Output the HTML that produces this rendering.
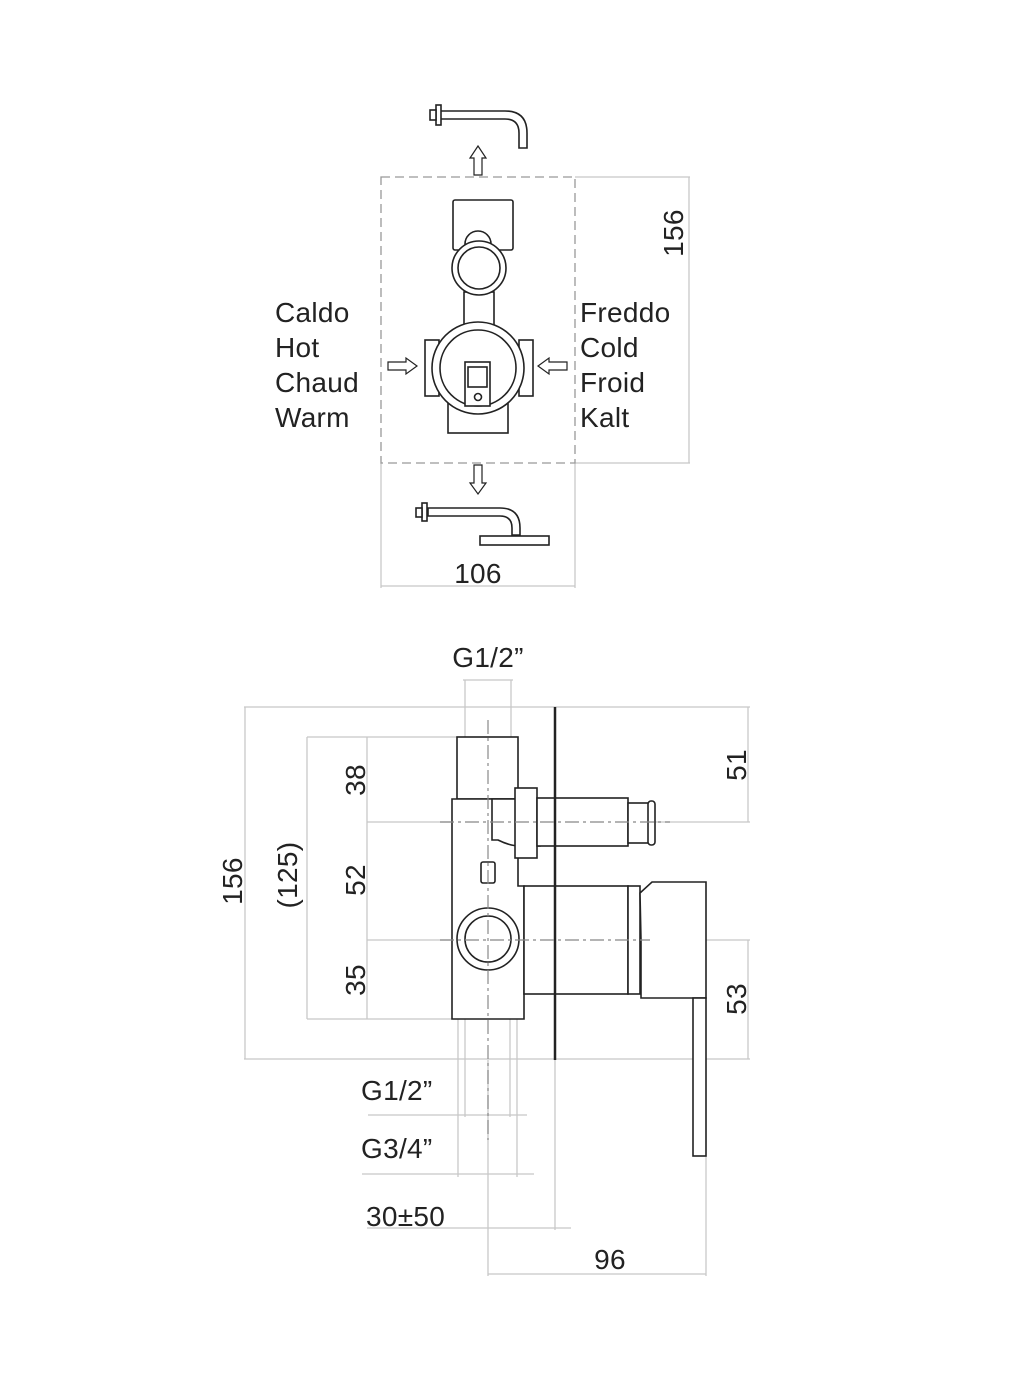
<!DOCTYPE html>
<html><head><meta charset="utf-8"><style>
html,body{margin:0;padding:0;background:#fff;}
svg{display:block;}
text{font-family:"Liberation Sans",Arial,sans-serif;fill:#222;}
</style></head><body>
<svg width="1009" height="1393" viewBox="0 0 1009 1393" xmlns="http://www.w3.org/2000/svg">
<g stroke="#c8c8c8" stroke-width="1.3" fill="none">
  <line x1="575" y1="177" x2="690" y2="177"/>
  <line x1="575" y1="463" x2="690" y2="463"/>
  <line x1="689" y1="177" x2="689" y2="463"/>
  <line x1="381" y1="463" x2="381" y2="588"/>
  <line x1="575" y1="463" x2="575" y2="588"/>
  <line x1="381" y1="586" x2="575" y2="586"/>
  <line x1="244" y1="707" x2="750" y2="707"/>
  <line x1="244" y1="1059" x2="750" y2="1059"/>
  <line x1="245" y1="707" x2="245" y2="1059"/>
  <line x1="307" y1="737" x2="460" y2="737"/>
  <line x1="307" y1="1019" x2="460" y2="1019"/>
  <line x1="307" y1="737" x2="307" y2="1019"/>
  <line x1="367" y1="737" x2="367" y2="1019"/>
  <line x1="367" y1="822" x2="750" y2="822"/>
  <line x1="367" y1="940" x2="750" y2="940"/>
  <line x1="748" y1="707" x2="748" y2="822"/>
  <line x1="748" y1="940" x2="748" y2="1059"/>
  <line x1="465" y1="680" x2="465" y2="737"/>
  <line x1="511" y1="680" x2="511" y2="737"/>
  <line x1="463" y1="680" x2="513" y2="680"/>
  <line x1="465" y1="1019" x2="465" y2="1117"/>
  <line x1="510" y1="1019" x2="510" y2="1117"/>
  <line x1="368" y1="1115" x2="527" y2="1115"/>
  <line x1="458" y1="1019" x2="458" y2="1177"/>
  <line x1="517" y1="1019" x2="517" y2="1177"/>
  <line x1="362" y1="1174" x2="534" y2="1174"/>
  <line x1="555" y1="1060" x2="555" y2="1230"/>
  <line x1="367" y1="1228" x2="571" y2="1228"/>
  <line x1="488" y1="1060" x2="488" y2="1276"/>
  <line x1="706" y1="1156" x2="706" y2="1276"/>
  <line x1="488" y1="1274" x2="706" y2="1274"/>
</g>
<rect x="381" y="177" width="194" height="286" fill="none" stroke="#999" stroke-width="1.3" stroke-dasharray="9,5"/>
<g stroke="#222" stroke-width="1.6" fill="#fff">
  <rect x="453" y="200" width="60" height="50" rx="2"/>
  <circle cx="478" cy="244" r="13"/>
  <rect x="464" y="292" width="30" height="35"/>
  <circle cx="479" cy="268" r="27"/>
  <circle cx="479" cy="268" r="21"/>
  <rect x="448" y="400" width="60" height="33"/>
  <rect x="425" y="340" width="14" height="56"/>
  <rect x="519" y="340" width="14" height="56"/>
  <circle cx="478" cy="368" r="46"/>
  <circle cx="478" cy="368" r="38"/>
  <rect x="465" y="362" width="25" height="44"/>
  <rect x="468" y="367" width="19" height="20"/>
  <circle cx="478" cy="397" r="3.5"/>
  <path d="M438,111 H505 Q527,111 527,133 V148 H519 V133 Q519,119 505,119 H438 Z"/>
  <rect x="436" y="105" width="5" height="20"/>
  <rect x="430" y="110" width="6" height="10"/>
  <path d="M428,508 H500 Q520,508 520,528 V535 H512 V528 Q512,516 500,516 H428 Z"/>
  <rect x="422" y="503" width="5" height="18"/>
  <rect x="416" y="508" width="6" height="9"/>
  <rect x="480" y="536" width="69" height="9"/>
  <path d="M474,175 V158 H470 L478,146 L486,158 H482 V175 Z" stroke-width="1.2"/>
  <path d="M474,465 V483 H470 L478,494 L486,483 H482 V465 Z" stroke-width="1.2"/>
  <path d="M388,362 H406 V358 L417,366 L406,374 V370 H388 Z" stroke-width="1.2"/>
  <path d="M567,362 H549 V358 L538,366 L549,374 V370 H567 Z" stroke-width="1.2"/>
</g>
<g stroke="#222" stroke-width="1.6" fill="#fff">
  <rect x="457" y="737" width="61" height="62"/>
  <path d="M452,799 H498 V799 H518 V815 H520 V855 H518 V886 H524 V1019 H452 Z"/>
  <path d="M492,799 H540 V846 H520 Q510,846 498,840 H492 Z"/>
  <rect x="515" y="788" width="22" height="70"/>
  <rect x="537" y="798" width="91" height="48"/>
  <rect x="628" y="803" width="22" height="40"/>
  <rect x="648" y="801" width="7" height="44" rx="3"/>
  <rect x="524" y="886" width="104" height="108"/>
  <rect x="628" y="886" width="12" height="108"/>
  <path d="M640,893 L652,882 H706 V998 H641 V940 Z"/>
  <rect x="693" y="998" width="13" height="158"/>
  <rect x="481" y="862" width="14" height="21" rx="2"/>
  <circle cx="488" cy="939" r="31"/>
  <circle cx="488" cy="939" r="23"/>
  <line x1="555" y1="707" x2="555" y2="1060" stroke-width="2.5"/>
</g>
<g stroke="#888" stroke-width="1.2" stroke-dasharray="14,4,3,4" fill="none">
  <line x1="488" y1="720" x2="488" y2="1140"/>
  <line x1="440" y1="822" x2="670" y2="822"/>
  <line x1="440" y1="940" x2="650" y2="940"/>
</g>
<g font-size="28" letter-spacing="0.3">
  <text x="275" y="322">Caldo</text>
  <text x="275" y="357">Hot</text>
  <text x="275" y="392">Chaud</text>
  <text x="275" y="427">Warm</text>
  <text x="580" y="322">Freddo</text>
  <text x="580" y="357">Cold</text>
  <text x="580" y="392">Froid</text>
  <text x="580" y="427">Kalt</text>
  <text x="478" y="583" text-anchor="middle">106</text>
  <text transform="translate(683,233) rotate(-90)" text-anchor="middle">156</text>
  <text x="488" y="667" text-anchor="middle">G1/2”</text>
  <text transform="translate(242,881) rotate(-90)" text-anchor="middle">156</text>
  <text transform="translate(297,875) rotate(-90)" text-anchor="middle">(125)</text>
  <text transform="translate(365,780) rotate(-90)" text-anchor="middle">38</text>
  <text transform="translate(365,880) rotate(-90)" text-anchor="middle">52</text>
  <text transform="translate(365,980) rotate(-90)" text-anchor="middle">35</text>
  <text transform="translate(746,765) rotate(-90)" text-anchor="middle">51</text>
  <text transform="translate(746,999) rotate(-90)" text-anchor="middle">53</text>
  <text x="361" y="1100">G1/2”</text>
  <text x="361" y="1158">G3/4”</text>
  <text x="366" y="1226">30±50</text>
  <text x="610" y="1269" text-anchor="middle">96</text>
</g>
</svg>
</body></html>
